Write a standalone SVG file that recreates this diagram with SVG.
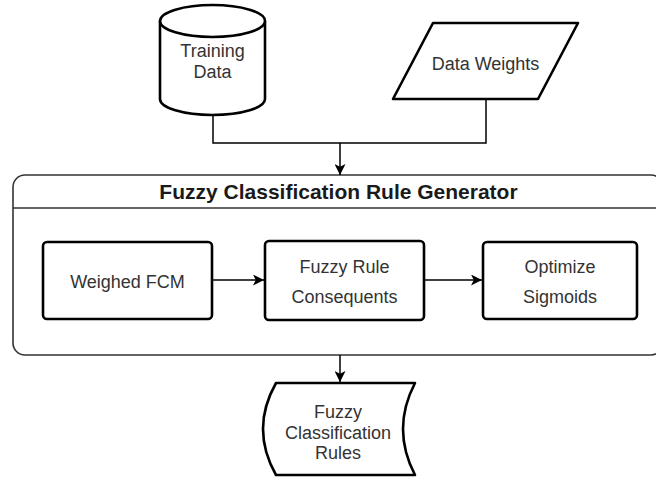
<svg xmlns="http://www.w3.org/2000/svg" width="656" height="480" viewBox="0 0 656 480">
<defs>
<style>
.shape{fill:#ffffff;stroke:#000000;stroke-width:2.6;stroke-linejoin:round}
.lbl{font-family:"Liberation Sans",Arial,sans-serif;font-size:18px;fill:#333333;text-anchor:middle}
.title{font-family:"Liberation Sans",Arial,sans-serif;font-size:21px;font-weight:bold;fill:#1a1a1a;text-anchor:middle}
.edge{fill:none;stroke:#000000;stroke-width:1.5}
</style>
<marker id="arrow" viewBox="0 0 10 10" refX="10" refY="5" markerWidth="11" markerHeight="11" markerUnits="userSpaceOnUse" orient="auto">
<path d="M0,0 L10,5 L0,10 L2.5,5 Z" fill="#000000"/>
</marker>
</defs>
<rect width="656" height="480" fill="#ffffff"/>

<g id="generator">
<rect x="13" y="175" width="650" height="180" rx="12" ry="12" fill="#ffffff" stroke="#333333" stroke-width="1.6"/>
<line x1="13" y1="208" x2="663" y2="208" stroke="#333333" stroke-width="1.6"/>
<text class="title" x="338.5" y="199">Fuzzy Classification Rule Generator</text>
</g>

<g id="training-data">
<path class="shape" d="M160,21 A52.5,16 0 0 1 265,21 L265,99 A52.5,16 0 0 1 160,99 Z"/>
<path class="shape" fill="none" d="M160,21 A52.5,16 0 0 0 265,21"/>
<text class="lbl" x="212.5" y="57">Training</text>
<text class="lbl" x="212.5" y="78">Data</text>
</g>

<g id="data-weights">
<path class="shape" d="M433,23 L578,23 L538,99 L393,99 Z"/>
<text class="lbl" x="485.5" y="70">Data Weights</text>
</g>

<g id="weighed-fcm">
<rect class="shape" x="43" y="242" width="169" height="77" rx="4" ry="4"/>
<text class="lbl" x="127.5" y="288">Weighed FCM</text>
</g>

<g id="fuzzy-rule-consequents">
<rect class="shape" x="265" y="241" width="159" height="79" rx="4" ry="4"/>
<text class="lbl" x="344.5" y="273">Fuzzy Rule</text>
<text class="lbl" x="344.5" y="303">Consequents</text>
</g>

<g id="optimize-sigmoids">
<rect class="shape" x="483" y="242" width="154" height="77" rx="4" ry="4"/>
<text class="lbl" x="560" y="273">Optimize</text>
<text class="lbl" x="560" y="303">Sigmoids</text>
</g>

<g id="fuzzy-classification-rules">
<path class="shape" d="M276,383 L415,383 Q391,429 415,475 L276,475 Q250,429 276,383 Z"/>
<text class="lbl" x="338" y="418">Fuzzy</text>
<text class="lbl" x="338" y="439">Classification</text>
<text class="lbl" x="338" y="459">Rules</text>
</g>

<g id="connectors">
<polyline class="edge" points="213,115 213,143 486,143 486,99"/>
<line class="edge" x1="340" y1="143" x2="340" y2="175" marker-end="url(#arrow)"/>
<line class="edge" x1="212" y1="280" x2="264" y2="280" marker-end="url(#arrow)"/>
<line class="edge" x1="424" y1="280" x2="482" y2="280" marker-end="url(#arrow)"/>
<line class="edge" x1="340" y1="355" x2="340" y2="382" marker-end="url(#arrow)"/>
</g>
</svg>
